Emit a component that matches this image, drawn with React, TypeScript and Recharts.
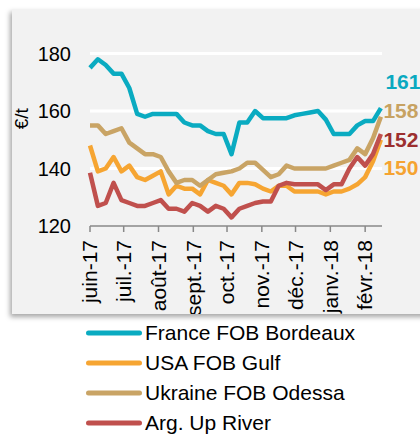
import React from 'react';
import { LineChart, Line, XAxis, YAxis, CartesianGrid, Legend } from 'recharts';

// days since 1 June 2017 (weekly quotes)
const days = [0, 7, 14, 21, 28, 35, 42, 49, 56, 63, 70, 77, 84, 91, 98, 105, 112, 119, 126, 133, 140, 147, 154, 161, 168, 175, 182, 189, 196, 203, 210, 217, 224, 231, 238, 245, 252, 259];

const france = [175, 178, 176, 173, 173, 168, 159, 158, 159, 159, 159, 159, 156, 155, 155, 153, 152, 152, 145, 156, 156, 160, 157.5, 157.5, 157.5, 157.5, 158.5, 159, 159.5, 160, 157, 152, 152, 152, 155, 156.5, 156.5, 161];
const usa = [148, 139, 140, 144, 139, 141, 137, 136, 137.5, 139, 131, 134, 133, 133, 131, 136, 135, 134, 131, 135, 135, 134.5, 133, 132, 134, 134, 132, 132, 132, 132, 131, 132, 132, 133, 134.5, 137, 142.5, 150];
const ukraine = [155, 155, 152, 153, 154, 149, 147, 145, 145, 144, 139, 135, 136, 136, 134, 136, 138, 138.5, 139, 140, 142, 142, 139.5, 137, 138, 141, 140, 140, 140, 140, 140, 141, 142, 143, 147, 145, 150.5, 158];
const argentina = [138.5, 127, 128, 135, 129, 128, 127, 127, 128, 129, 126, 126, 125, 128, 127, 125, 127, 126, 123, 126, 127, 128, 128.5, 128.5, 134, 135, 134.5, 134.5, 134.5, 134.5, 132.5, 134.5, 134.5, 140, 144, 141, 145, 152];

const monthTicks = [0, 30, 61, 92, 122, 153, 183, 214, 245];
const monthLabels = ['juin-17', 'juil.-17', 'août-17', 'sept.-17', 'oct.-17', 'nov.-17', 'déc.-17', 'janv.-18', 'févr.-18'];
const yTicks = [120, 140, 160, 180];
const gridValues = [140, 160, 180];

const seriesNames = ['France FOB Bordeaux', 'USA FOB Gulf', 'Ukraine FOB Odessa', 'Arg. Up River'];

const data = days.map((d, i) => ({
  day: d,
  france: france[i],
  usa: usa[i],
  ukraine: ukraine[i],
  argentina: argentina[i],
}));

const FONT = '"Liberation Sans", Arial, sans-serif';
const BOX_BOTTOM = 314;

const XTick = (props: any) => {
  const { x, y, payload, index } = props;
  const i = monthTicks.indexOf(payload.value);
  const label = i >= 0 ? monthLabels[i] : '';
  const id = `xclip-${index}`;
  return (
    <g>
      <defs>
        <clipPath id={id}>
          <rect x={x - 20} y={y - 20} width={40} height={BOX_BOTTOM - (y - 20)} />
        </clipPath>
      </defs>
      <g clipPath={`url(#${id})`}>
        <text
          x={x}
          y={y}
          transform={`rotate(-90, ${x}, ${y})`}
          textAnchor="end"
          dy="0.35em"
          fontSize={21}
          fontFamily={FONT}
          fill="#000"
        >
          {label}
        </text>
      </g>
    </g>
  );
};

const makeEndLabel = (color: string, dx: number, dy: number) => (props: any) => {
  const { x, y, index, value } = props;
  if (index !== days.length - 1) return null;
  return (
    <text
      x={x + dx}
      y={y + dy}
      fill={color}
      fontSize={21}
      fontWeight="bold"
      fontFamily={FONT}
      dominantBaseline="central"
    >
      {value}
    </text>
  );
};

const YLabel = (props: any) => {
  const { viewBox } = props;
  const cx = 28;
  const cy = viewBox.y + viewBox.height / 2 - 21;
  return (
    <text
      x={cx}
      y={cy}
      transform={`rotate(-90, ${cx}, ${cy})`}
      textAnchor="middle"
      fontSize={19}
      fontFamily={FONT}
      fill="#000"
    >
      €/t
    </text>
  );
};

const LegendContent = (props: any) => {
  const { payload } = props;
  const items = [...(payload || [])].sort(
    (a: any, b: any) => seriesNames.indexOf(a.value) - seriesNames.indexOf(b.value)
  );
  return (
    <div style={{ fontFamily: FONT }}>
      {items.map((p: any) => (
        <div key={p.value} style={{ display: 'flex', alignItems: 'center', height: 30 }}>
          <svg width={56} height={30} style={{ display: 'block' }}>
            <line x1={2.5} y1={15} x2={53.5} y2={15} stroke={p.color} strokeWidth={5} strokeLinecap="round" />
          </svg>
          <span style={{ fontSize: 21, color: '#000', marginLeft: 3, whiteSpace: 'nowrap' }}>{p.value}</span>
        </div>
      ))}
    </div>
  );
};

const COLORS = {
  france: '#0aabc1',
  usa: '#f6a532',
  ukraine: '#c9a465',
  argentina: '#c0504d',
};

export default function App() {
  return (
    <div style={{ position: 'absolute', left: 0, top: 0, width: 420, height: 436, overflow: 'hidden', background: '#fff' }}>
      <div
        style={{
          position: 'absolute',
          left: 12,
          top: 9,
          width: 430,
          height: BOX_BOTTOM - 9,
          background: '#f2f2f2',
          boxShadow: '-2px 3px 5px rgba(0,0,0,0.35)',
        }}
      />
      <div style={{ position: 'absolute', left: 0, top: 0 }}>
        <LineChart
          width={420}
          height={436}
          data={data}
          margin={{ top: 53.5, right: 38, bottom: 130, left: 0 }}
        >
          <CartesianGrid vertical={false} horizontalValues={gridValues} stroke="#ffffff" strokeWidth={3} />
          <XAxis
            dataKey="day"
            type="number"
            domain={[0, 260]}
            ticks={monthTicks}
            interval={0}
            height={80}
            axisLine={{ stroke: '#888888', strokeWidth: 1.5 }}
            tickLine={{ stroke: '#888888', strokeWidth: 1.5 }}
            tickSize={6}
            tickMargin={8}
            tick={<XTick />}
          />
          <YAxis
            type="number"
            domain={[120, 180]}
            ticks={yTicks}
            width={90}
            axisLine={false}
            tickLine={false}
            tickSize={0}
            tickMargin={19}
            tick={{ fontSize: 20, fill: '#000', fontFamily: FONT }}
            label={<YLabel />}
          />
          <Legend
            layout="vertical"
            align="center"
            verticalAlign="middle"
            wrapperStyle={{ top: 318, left: 86, width: 320, height: 120 }}
            content={<LegendContent />}
          />
          <Line
            type="linear"
            dataKey="france"
            name={seriesNames[0]}
            stroke={COLORS.france}
            strokeWidth={4.5}
            strokeLinejoin="round"
            dot={false}
            activeDot={false}
            isAnimationActive={false}
            label={makeEndLabel('#0aa9c0', 4.5, -27)}
          />
          <Line
            type="linear"
            dataKey="usa"
            name={seriesNames[1]}
            stroke={COLORS.usa}
            strokeWidth={4.5}
            strokeLinejoin="round"
            dot={false}
            activeDot={false}
            isAnimationActive={false}
            label={makeEndLabel('#f5a331', 2.5, 27.5)}
          />
          <Line
            type="linear"
            dataKey="ukraine"
            name={seriesNames[2]}
            stroke={COLORS.ukraine}
            strokeWidth={4.5}
            strokeLinejoin="round"
            dot={false}
            activeDot={false}
            isAnimationActive={false}
            label={makeEndLabel('#c7a262', 2.5, -6)}
          />
          <Line
            type="linear"
            dataKey="argentina"
            name={seriesNames[3]}
            stroke={COLORS.argentina}
            strokeWidth={4.5}
            strokeLinejoin="round"
            dot={false}
            activeDot={false}
            isAnimationActive={false}
            label={makeEndLabel('#9c2f2f', 2.5, 5)}
          />
        </LineChart>
      </div>
    </div>
  );
}
